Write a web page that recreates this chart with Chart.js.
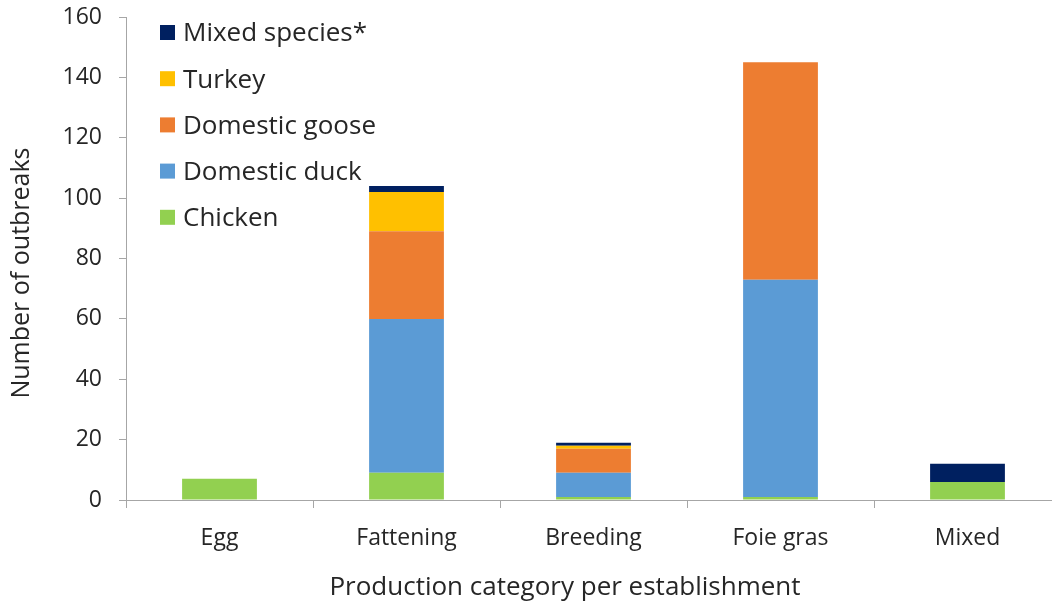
<!DOCTYPE html>
<html>
<head>
<meta charset="utf-8">
<script src="https://cdn.jsdelivr.net/npm/chart.js@4"></script>
<style>
  html, body { margin: 0; padding: 0; background: #fff; overflow: hidden; }
  #wrap { width: 1061px; height: 606px; }
</style>
</head>
<body>
<div id="wrap"><canvas id="chart"></canvas></div>
<script>
const categories = ['Egg', 'Fattening', 'Breeding', 'Foie gras', 'Mixed'];
const chicken = [7, 9, 1, 1, 6];
const duck = [0, 51, 8, 72, 0];
const goose = [0, 29, 8, 72, 0];
const turkey = [0, 13, 1, 0, 0];
const mixedSpecies = [0, 2, 1, 0, 6];
const yTicks = [0, 20, 40, 60, 80, 100, 120, 140, 160];
const xTitle = 'Production category per establishment';
const yTitle = 'Number of outbreaks';

const FONT = '"Open Sans"';
const TEXT = '#262626';
const AXIS = '#a6a6a6';

// legend inside the plot (last series first) and the two axis titles
const extras = {
  id: 'extras',
  afterDraw(chart) {
    const ctx = chart.ctx;
    const sets = chart.data.datasets.slice().reverse();
    ctx.save();
    ctx.font = '26px ' + FONT;
    ctx.textBaseline = 'middle';
    sets.forEach((ds, i) => {
      const y = 33 + i * 46.2;
      ctx.fillStyle = ds.backgroundColor;
      ctx.fillRect(160, y - 8, 15, 15);
      ctx.fillStyle = TEXT;
      ctx.fillText(ds.label, 183, y + 1);
    });
    ctx.textAlign = 'center';
    ctx.fillText(xTitle, 565, 588);
    ctx.font = '25px ' + FONT;
    ctx.translate(22, 273);
    ctx.rotate(-Math.PI / 2);
    ctx.fillText(yTitle, 0, 0);
    ctx.restore();
  }
};

new Chart(document.getElementById('chart'), {
  type: 'bar',
  data: {
    labels: categories,
    datasets: [
      { label: 'Chicken', data: chicken, backgroundColor: '#92d050' },
      { label: 'Domestic duck', data: duck, backgroundColor: '#5b9bd5' },
      { label: 'Domestic goose', data: goose, backgroundColor: '#ed7d31' },
      { label: 'Turkey', data: turkey, backgroundColor: '#ffc000' },
      { label: 'Mixed species*', data: mixedSpecies, backgroundColor: '#002060' }
    ]
  },
  options: {
    responsive: true,
    maintainAspectRatio: false,
    animation: false,
    layout: { padding: { top: 17, left: 0, right: 0, bottom: 0 } },
    datasets: { bar: { barPercentage: 0.4, categoryPercentage: 1, borderWidth: 0 } },
    plugins: { legend: { display: false }, tooltip: { enabled: false } },
    scales: {
      x: {
        stacked: true,
        afterFit(s) { s.height = 106; s.paddingLeft = 0; s.paddingRight = 0; },
        border: { color: AXIS, width: 1 },
        grid: { offset: true, drawOnChartArea: false, drawTicks: true, tickLength: 8, color: AXIS },
        ticks: { color: TEXT, font: { family: FONT, size: 23 }, padding: 17 }
      },
      y: {
        stacked: true,
        min: 0, max: 160,
        afterFit(s) { s.width = 126; s.paddingTop = 0; s.paddingBottom = 0; },
        afterBuildTicks(s) { s.ticks = yTicks.map(v => ({ value: v })); },
        border: { color: AXIS, width: 1 },
        grid: { drawOnChartArea: false, drawTicks: true, tickLength: 7, color: AXIS },
        ticks: { color: TEXT, font: { family: FONT, size: 23 }, padding: 17 }
      }
    }
  },
  plugins: [extras]
});
</script>
</body>
</html>
